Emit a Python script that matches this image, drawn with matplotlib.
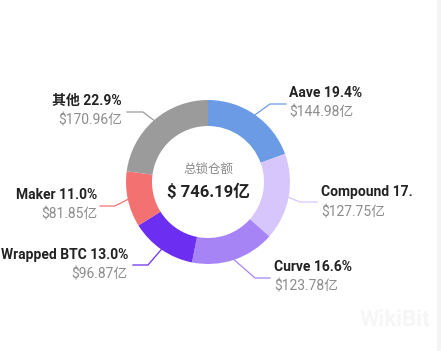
import matplotlib
matplotlib.use("Agg")
import matplotlib.pyplot as plt
import numpy as np

plt.rcParams['font.family'] = ['Roboto', 'Noto Sans CJK SC', 'DejaVu Sans']

names = ["Aave", "Compound", "Curve", "Wrapped BTC", "Maker", "其他"]
values = [144.98, 127.75, 123.78, 96.87, 81.85, 170.96]
pct_labels = ["19.4%", "17.", "16.6%", "13.0%", "11.0%", "22.9%"]
value_labels = ["$144.98亿", "$127.75亿", "$123.78亿", "$96.87亿", "$81.85亿", "$170.96亿"]
colors = ["#6a9be4", "#d6c6fb", "#a684f6", "#6c2ef0", "#f47171", "#9b9b9b"]
center_title = "总锁仓额"
center_value = "$ 746.19亿"

W, H = 441, 351
fig = plt.figure(figsize=(W / 100, H / 100), dpi=100)
ax = fig.add_axes([0, 0, 1, 1])
ax.set_xlim(0, W)
ax.set_ylim(0, H)
ax.set_aspect('equal')
ax.axis('off')

# right gray strip
ax.add_patch(plt.Rectangle((437, 0), 4, H, color="#f4f4f4", lw=0))

cx, cy = 208, H - 182
R, ring = 82, 26
ax.pie(values, colors=colors, startangle=90, counterclock=False,
       center=(cx, cy), radius=R, frame=True,
       wedgeprops=dict(width=ring, linewidth=0))
ax.set_xlim(0, W)
ax.set_ylim(0, H)
ax.axis('off')

# label layout: (elbow x, elbow y, end x, text x, text y, align)
layout = [
    (270, 104, 286, 289, 93, 'left'),
    (300, 202, 317, 321, 192, 'left'),
    (255, 278, 270, 274, 267, 'left'),
    (148, 265, 133, 128, 255, 'right'),
    (115, 206, 100, 97, 195, 'right'),
    (143, 112, 127, 122, 101, 'right'),
]
total = sum(values)
cum = 0
for i, v in enumerate(values):
    mid = 90 - (cum + v / 2) / total * 360
    cum += v
    a = np.deg2rad(mid)
    sx, sy = cx + R * np.cos(a), cy + R * np.sin(a)
    ex, ey, endx, tx, ty, ha = layout[i]
    ax.plot([sx, ex, endx], [sy, H - ey, H - ey], color=colors[i], lw=0.9)
    ax.text(tx, H - ty, f"{names[i]} {pct_labels[i]}", ha=ha, va='center',
            fontsize=10, fontweight='bold', color="#222222")
    ax.text(tx, H - ty - 20, value_labels[i], ha=ha, va='center',
            fontsize=10, color="#8c8c8c")

ax.text(cx, H - 169, center_title, ha='center', va='center', fontsize=9, color="#888888")
ax.text(cx, H - 192, center_value, ha='center', va='center', fontsize=12,
        fontweight='bold', color="#222222")

# faint watermark
ax.text(395, H - 320, "WikiBit", ha='center', va='center', fontsize=16,
        fontweight='bold', color="#f6f6f6")

fig.savefig("out.png", dpi=100)
